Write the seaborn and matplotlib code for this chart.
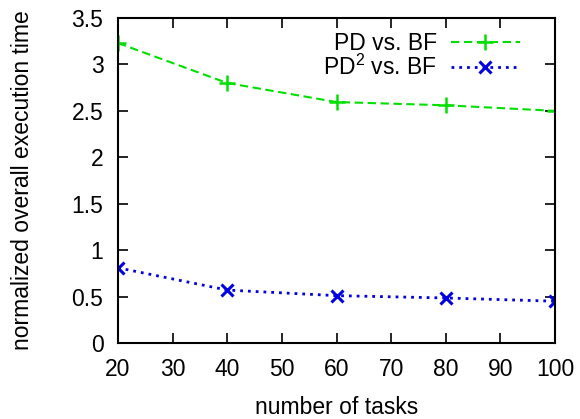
import matplotlib
matplotlib.use("Agg")
import matplotlib.pyplot as plt
import seaborn as sns
import pandas as pd

tasks = [20, 40, 60, 80, 100]
pd_vs_bf = [3.23, 2.80, 2.595, 2.56, 2.50]
pd2_vs_bf = [0.81, 0.57, 0.51, 0.485, 0.45]
labels = ["PD vs. BF", "PD$^2$ vs. BF"]

sns.set_style("ticks")
plt.rcParams['font.family'] = ['Liberation Sans', 'DejaVu Sans']
plt.rcParams['mathtext.fontset'] = 'custom'
plt.rcParams['mathtext.rm'] = 'Liberation Sans'
plt.rcParams['text.color'] = 'black'
plt.rcParams['axes.labelcolor'] = 'black'

df = pd.DataFrame({"tasks": tasks + tasks,
                   "value": pd_vs_bf + pd2_vs_bf,
                   "series": [labels[0]] * 5 + [labels[1]] * 5})

FS = 16.5

fig = plt.figure(figsize=(5.8, 4.19), dpi=100)
ax = fig.add_axes([118/580, 1 - 343/419, (555-118)/580, (343-18)/419])

sns.lineplot(data=df[df.series == labels[0]], x="tasks", y="value", ax=ax,
             color="#00e000", linestyle=(0, (4, 2.2)), marker="+", markersize=11,
             markeredgewidth=1.8, markeredgecolor="#00e000", linewidth=1.5,
             label=labels[0])
sns.lineplot(data=df[df.series == labels[1]], x="tasks", y="value", ax=ax,
             color="#0000e0", linestyle=(0, (1.0, 1.8)), marker="x", markersize=8,
             markeredgewidth=2.2, markeredgecolor="#0000e0", linewidth=2.0,
             label=labels[1])

ax.set_xlim(20, 100)
ax.set_ylim(0, 3.5)
ax.set_xticks(range(20, 101, 10))
ax.set_yticks([0, 0.5, 1, 1.5, 2, 2.5, 3, 3.5])
ax.set_yticklabels(["0", "0.5", "1", "1.5", "2", "2.5", "3", "3.5"])
ax.tick_params(direction="in", top=True, right=True, length=7.2, width=1.2,
               labelsize=FS, pad=10.5, colors="black")
for s in ax.spines.values():
    s.set_visible(True)
    s.set_linewidth(1.5)
    s.set_color("black")
ax.set_xlabel("number of tasks", fontsize=FS, labelpad=11, color="black")
ax.set_ylabel("normalized overall execution time", fontsize=FS, labelpad=27,
              color="black")

leg = ax.legend(loc="upper right", frameon=False, markerfirst=False, fontsize=FS,
                handlelength=3.0, labelspacing=0.0, borderaxespad=0.0,
                handletextpad=0.6, bbox_to_anchor=(0.94, 0.985))
for t in leg.get_texts():
    t.set_color("black")
col = leg._legend_box._children[-1]._children[0]
col.align = "right"

fig.savefig("out.png", dpi=100)
